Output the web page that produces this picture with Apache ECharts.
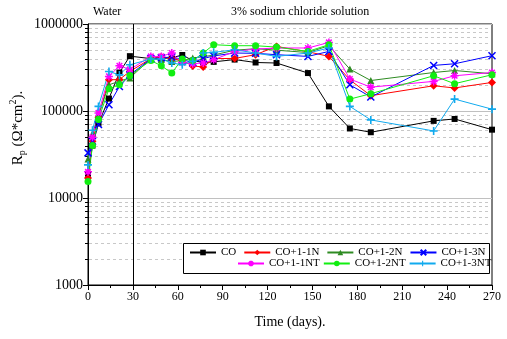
<!DOCTYPE html>
<html>
<head>
<meta charset="utf-8">
<script src="https://cdn.jsdelivr.net/npm/echarts@6/dist/echarts.min.js"></script>
<style>
html, body { margin: 0; padding: 0; background: #fff; }
#chart { width: 507px; height: 339px; }
</style>
</head>
<body>
<div id="chart"></div>
<script>
// measurement days
var days = [0, 3, 7, 14, 21, 28, 42, 49, 56, 63, 70, 77, 84, 98, 112, 126, 147, 161, 175, 189, 231, 245, 270];
var seriesNames = ['CO', 'CO+1-1N', 'CO+1-2N', 'CO+1-3N', 'CO+1-1NT', 'CO+1-2NT', 'CO+1-3NT'];
// Rp values (ohm*cm2)
var rpCO    = [19000, 40000, 72000, 139000, 277000, 427000, 400000, 400000, 410000, 440000, 380000, 360000, 367000, 390000, 361000, 356000, 273000, 113000, 63000, 57000, 77000, 81000, 61000];
var rp1N    = [17000, 45000, 85000, 228000, 230000, 285000, 400000, 420000, 400000, 380000, 330000, 320000, 400000, 402000, 444000, 552000, 480000, 424000, 228000, 150000, 195000, 184000, 213000];
var rp2N    = [28000, 55000, 90000, 200000, 220000, 240000, 400000, 390000, 370000, 380000, 407000, 420000, 440000, 500000, 520000, 500000, 470000, 563000, 303000, 224000, 277000, 292000, 268000];
var rp3N    = [33000, 45000, 70000, 118000, 191000, 260000, 400000, 410000, 417000, 390000, 360000, 400000, 430000, 464000, 460000, 444000, 424000, 484000, 200000, 145000, 334000, 349000, 432000];
var rp1NT   = [20000, 50000, 95000, 250000, 331000, 300000, 424000, 424000, 464000, 360000, 350000, 356000, 388000, 484000, 515000, 530000, 530000, 614000, 233000, 188000, 219000, 254000, 277000];
var rp2NT   = [15500, 40000, 80000, 180000, 200000, 256000, 380000, 331000, 273000, 396000, 380000, 464000, 578000, 563000, 563000, 543000, 484000, 578000, 137000, 158000, 254000, 206000, 261000];
var rp3NT   = [24000, 60000, 113000, 285000, 260000, 340000, 396000, 396000, 356000, 341000, 372000, 464000, 472000, 506000, 464000, 424000, 464000, 530000, 113000, 79000, 59000, 137000, 105000];
var allValues = [rpCO, rp1N, rp2N, rp3N, rp1NT, rp2NT, rp3NT];

var FONT = 'Liberation Serif';
var colors = ['#000000', '#ff0000', '#2e8b22', '#0000ff', '#ff00ff', '#11ee11', '#11aaee'];
var symbols = [
	'rect',
	'diamond',
	'triangle',
	'path://M0,0L10,10M10,0L0,10',
	'path://M5,0L5,10M0,5L10,5M1.5,1.5L8.5,8.5M8.5,1.5L1.5,8.5',
	'circle',
	'path://M4,0H6V4H10V6H6V10H4V6H0V4H4Z'
];
var symbolSizes = [6, 8, 7, 7, 8, 7, 8];
var strokeOnly = [false, false, false, true, true, false, false];

var chart = echarts.init(document.getElementById('chart'));

function pairs(vals) {
	return days.map(function(d, i) { return [d, vals[i]]; });
}

var series = seriesNames.map(function(name, i) {
	var s = {
		name: name,
		type: 'line',
		data: pairs(allValues[i]),
		symbol: symbols[i],
		symbolSize: symbolSizes[i],
		showAllSymbol: true,
		lineStyle: { color: colors[i], width: 1 },
		itemStyle: { color: colors[i], borderColor: colors[i], borderWidth: strokeOnly[i] ? 1.5 : 0 },
		emphasis: { disabled: true }
	};
	if (i === 0) {
		// start of the NaCl immersion
		s.markLine = {
			silent: true,
			symbol: 'none',
			label: { show: false },
			lineStyle: { color: '#000', type: 'solid', width: 1 },
			data: [{ xAxis: 30 }]
		};
	}
	return s;
});

var legendText = { fontFamily: FONT, fontSize: 11, color: '#000' };

chart.setOption({
	animation: false,
	grid: { left: 88, right: 15, top: 24, bottom: 54, show: true, borderColor: '#000', borderWidth: 1 },
	legend: [{
		data: seriesNames.slice(0, 4),
		left: 189, top: 247, width: 320, padding: 0,
		itemWidth: 26, itemHeight: 7, itemGap: 7,
		textStyle: legendText
	}, {
		data: seriesNames.slice(4),
		left: 237, top: 258, width: 300, padding: 0,
		itemWidth: 26, itemHeight: 7, itemGap: 3,
		textStyle: legendText
	}],
	xAxis: {
		type: 'value', min: 0, max: 270, interval: 30,
		axisLine: { lineStyle: { color: '#000' } },
		axisTick: { length: 5, lineStyle: { color: '#000' } },
		minorTick: { show: true, splitNumber: 2, length: 3, lineStyle: { color: '#000' } },
		splitLine: { show: false },
		axisLabel: { fontFamily: FONT, fontSize: 12, color: '#000', margin: 6 },
		name: 'Time (days).', nameLocation: 'middle', nameGap: 30,
		nameTextStyle: { fontFamily: FONT, fontSize: 14, color: '#000' }
	},
	yAxis: {
		type: 'log', logBase: 10, min: 1000, max: 1000000,
		axisLine: { lineStyle: { color: '#000' } },
		axisTick: { length: 5, lineStyle: { color: '#000' } },
		splitLine: { show: true, lineStyle: { color: '#c0c0c0', width: 1 } },
		axisLabel: {
			fontFamily: FONT, fontSize: 14, color: '#000', margin: 5,
			formatter: function(v) { return String(Math.round(v)); }
		}
	},
	series: series
});

// log minor grid lines and ticks (2..9 x each decade), placed through the y scale
var x0 = chart.convertToPixel({ xAxisIndex: 0 }, 0);
var x1 = chart.convertToPixel({ xAxisIndex: 0 }, 270);
var extra = [];
for (var e = 3; e < 6; e++) {
	for (var m = 2; m <= 9; m++) {
		var y = Math.round(chart.convertToPixel({ yAxisIndex: 0 }, m * Math.pow(10, e))) + 0.5;
		extra.push({
			type: 'line', z: 0, silent: true,
			shape: { x1: x0 + 1, y1: y, x2: x1 - 1, y2: y },
			style: { stroke: '#c8c8c8', lineWidth: 1, lineDash: [3, 3] }
		});
		extra.push({
			type: 'line', z: 1, silent: true,
			shape: { x1: x0 - 3, y1: y, x2: x0, y2: y },
			style: { stroke: '#000', lineWidth: 1 }
		});
	}
}
// legend frame
extra.push({
	type: 'rect', z: 3, silent: true,
	shape: { x: 183.5, y: 243.5, width: 306, height: 30 },
	style: { fill: '#fff', stroke: '#000', lineWidth: 1 }
});
// labels above the plot
extra.push({
	type: 'text', left: 93, top: 6, silent: true,
	style: { text: 'Water', fontFamily: FONT, fontSize: 12, fill: '#000' }
});
extra.push({
	type: 'text', left: 231, top: 6, silent: true,
	style: { text: '3% sodium chloride solution', fontFamily: FONT, fontSize: 12, fill: '#000' }
});
// y axis title with sub/superscript
extra.push({
	type: 'text', x: 18, y: 128, rotation: Math.PI / 2, silent: true,
	style: {
		text: '{a|R}{s|p}{a| (Ω*cm}{t|2}{a|).}',
		align: 'center', verticalAlign: 'middle',
		rich: {
			a: { fontFamily: FONT, fontSize: 15, fill: '#000', color: '#000' },
			s: { fontFamily: FONT, fontSize: 10, fill: '#000', color: '#000', padding: [9, 0, 0, 0] },
			t: { fontFamily: FONT, fontSize: 10, fill: '#000', color: '#000', padding: [0, 0, 9, 0] }
		}
	}
});
chart.setOption({ graphic: extra });
</script>
</body>
</html>
